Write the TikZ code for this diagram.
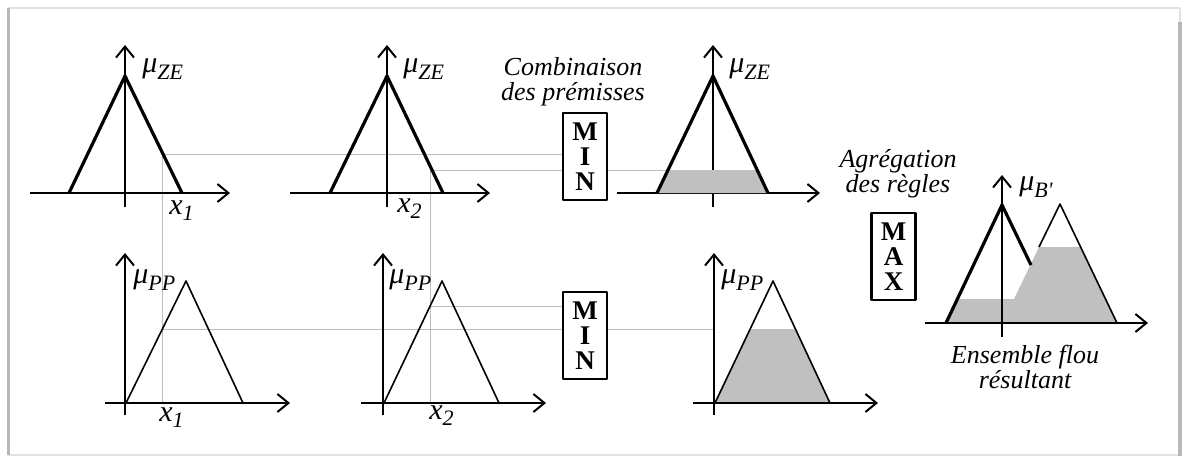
\documentclass[tikz,border=0pt]{standalone}
\usepackage{fontspec}
\setmainfont{Liberation Serif}
\usetikzlibrary{positioning, arrows.meta}
\definecolor{fuzzyGrey}{HTML}{C0C0C0}
\definecolor{guideGrey}{HTML}{BDBDBD}
\definecolor{frameGrey}{HTML}{E2E2E2}
\definecolor{shadowGrey}{HTML}{B8B8B8}
\newcommand{\memb}[1]{\textit{μ}\raisebox{-0.55ex}{\fontsize{11}{11}\selectfont\textit{#1}}}
\newcommand{\xin}[1]{\textit{x}\raisebox{-0.5ex}{\fontsize{11}{11}\selectfont\textit{#1}}}

\begin{document}
\begin{tikzpicture}[x=0.5pt, y=-0.5pt, line join=round,
    axis/.style={line width=1pt, -{Straight Barb[length=5.5pt,width=9pt]}},
    mfthick/.style={line width=1.6pt},
    mfthin/.style={line width=0.8pt},
    guide/.style={guideGrey, line width=0.5pt},
    clipped/.style={fill=fuzzyGrey, draw=none},
    opbox/.style={draw, line width=1.4pt, fill=white, minimum width=22pt,
      minimum height=43.5pt, inner sep=0pt, align=center,
      font=\fontsize{13.5}{12.5}\selectfont\bfseries},
    lbl/.style={anchor=base west, inner sep=0pt, font=\fontsize{15}{15}\selectfont},
    caption/.style={anchor=north, align=center, inner sep=0pt,
      font=\fontsize{13}{12.5}\selectfont\itshape}]
  \useasboundingbox (0,0) rectangle (1183,456);
  % frame
  \draw[frameGrey, line width=0.8pt] (8,8) rectangle (1180,455);
  \draw[shadowGrey, line width=1.5pt] (8,8) -- (8,455);
  \draw[shadowGrey, line width=2pt] (1180,22) -- (1180,456);

  % guide lines (behind the operator boxes)
  \draw[guide] (162,154) -- (585,154);
  \draw[guide] (162,154) -- (162,403);
  \draw[guide] (430,170) -- (668,170);
  \draw[guide] (430,170) -- (430,403);
  \draw[guide] (430,306) -- (585,306);
  \draw[guide] (162,329) -- (714,329);

  % rule 1 : ZE
  \draw[axis] (125,207) -- (125,45);
  \draw[axis] (30,193) -- (230,193);
  \draw[mfthick] (69,193) -- (125,76) -- (182,193);
  \draw[axis] (387,207) -- (387,45);
  \draw[axis] (290,193) -- (490,193);
  \draw[mfthick] (330,193) -- (387,76) -- (443,193);
  \draw[axis] (713,207) -- (713,45);
  \draw[axis] (617,193) -- (820,193);
  \fill[fuzzyGrey] (657,193) -- (668,170) -- (757,170) -- (768,193) -- cycle;
  \draw[mfthick] (657,193) -- (713,76) -- (768,193);

  % rule 2 : PP
  \draw[axis] (125,415) -- (125,253);
  \draw[axis] (105,403) -- (290,403);
  \draw[mfthin] (126,403) -- (186,281) -- (243,403);
  \draw[axis] (383,415) -- (383,253);
  \draw[axis] (361,403) -- (546,403);
  \draw[mfthin] (384,403) -- (442,281) -- (499,403);
  \fill[fuzzyGrey] (714,403) -- (750,329) -- (795,329) -- (830,403) -- cycle;
  \draw[axis] (714,415) -- (714,253);
  \draw[axis] (693,403) -- (878,403);
  \draw[mfthin] (715,403) -- (773,281) -- (830,403);

  % aggregated output
  \fill[fuzzyGrey] (946,323) -- (957,299) -- (1014,299) -- (1039,247)
    -- (1081,247) -- (1117,323) -- cycle;
  \draw[axis] (1002,337) -- (1002,175);
  \draw[axis] (925,323) -- (1148,323);
  \draw[mfthick] (946,323) -- (1002,205) -- (1031,265);
  \draw[mfthin] (1039,247) -- (1060,204) -- (1117,323);

  % operators
  \node[opbox] (min1) at (585,156.5) {M\\I\\N};
  \node[opbox] (min2) at (585,335.5) {M\\I\\N};
  \node[opbox] (max) at (893.5,256.5) {M\\A\\X};

  % labels
  \node[lbl] (mu1) at (142,72) {\memb{ZE}};
  \node[lbl] (mu2) at (403,72) {\memb{ZE}};
  \node[lbl] (mu3) at (729,72) {\memb{ZE}};
  \node[lbl] (mu4) at (133,283) {\memb{PP}};
  \node[lbl] (mu5) at (389,283) {\memb{PP}};
  \node[lbl] (mu6) at (721,283) {\memb{PP}};
  \node[lbl] (mub) at (1019,190) {\memb{B\textquotesingle}};
  \node[lbl] (x1a) at (169,214) {\xin{1}};
  \node[lbl] (x2a) at (397,212) {\xin{2}};
  \node[lbl] (x1b) at (159,421) {\xin{1}};
  \node[lbl] (x2b) at (429,419) {\xin{2}};

  \node[caption] (comb) at (573,57) {Combinaison\\des prémisses};
  \node[caption] (aggr) at (898,149) {Agrégation\\des règles};
  \node[caption] (res) at (1025,345) {Ensemble flou\\résultant};
\end{tikzpicture}
\end{document}
